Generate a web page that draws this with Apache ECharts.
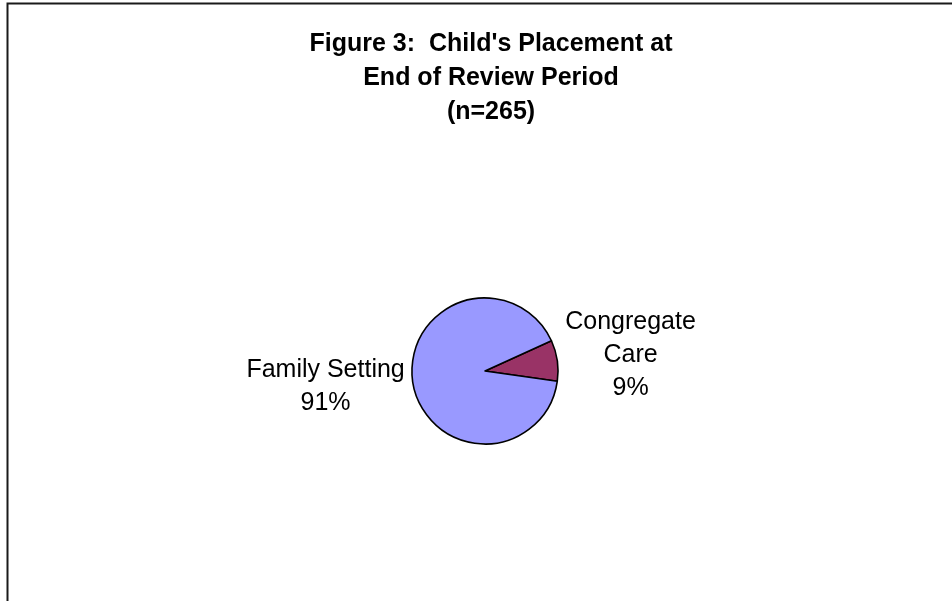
<!DOCTYPE html>
<html>
<head>
<meta charset="utf-8">
<script src="https://cdn.jsdelivr.net/npm/echarts@6/dist/echarts.min.js"></script>
<style>
  html, body { margin: 0; padding: 0; background: #fff; }
  #chart { width: 952px; height: 601px; }
</style>
</head>
<body>
<div id="chart"></div>
<script>
// Placement categories and counts (n = 265)
const categories = ['Congregate\nCare', 'Family Setting'];
const counts = [24, 241];
const sliceColors = ['#993366', '#9999FF'];

// small vertical nudges applied to each slice label (px)
const labelNudge = [-5, 5];

const chart = echarts.init(document.getElementById('chart'), null, { renderer: 'canvas' });

const option = {
  backgroundColor: '#ffffff',
  animation: false,
  title: {
    text: "Figure 3:  Child's Placement at\nEnd of Review Period\n(n=265)",
    left: 486,
    top: 22,
    textAlign: 'center',
    textStyle: {
      fontFamily: 'Liberation Sans, Arial, sans-serif',
      fontWeight: 'bold',
      fontSize: 25,
      lineHeight: 34,
      color: '#000'
    }
  },
  graphic: [
    {
      type: 'polyline',
      shape: { points: [[7.5, 601], [7.5, 3.5], [952, 3.5]] },
      style: { stroke: '#1a1a1a', lineWidth: 2, fill: null },
      silent: true
    }
  ],
  series: [
    {
      type: 'pie',
      center: [485, 371],
      radius: 73,
      startAngle: 24.5,
      clockwise: true,
      percentPrecision: 0,
      data: categories.map((name, i) => ({
        name: name,
        value: counts[i],
        itemStyle: { color: sliceColors[i] }
      })),
      itemStyle: { borderColor: '#000', borderWidth: 1.6 },
      label: {
        show: true,
        position: 'outside',
        formatter: '{b}\n{d}%',
        fontFamily: 'Liberation Sans, Arial, sans-serif',
        fontSize: 25,
        lineHeight: 33,
        color: '#000'
      },
      labelLine: { show: false, length: 3, length2: 0 },
      labelLayout: function (p) {
        const r = p.labelRect;
        return {
          x: r.x + r.width / 2,
          y: r.y + r.height / 2 + labelNudge[p.dataIndex],
          align: 'center',
          verticalAlign: 'middle'
        };
      },
      emphasis: { disabled: true }
    }
  ]
};

chart.setOption(option);
</script>
</body>
</html>
